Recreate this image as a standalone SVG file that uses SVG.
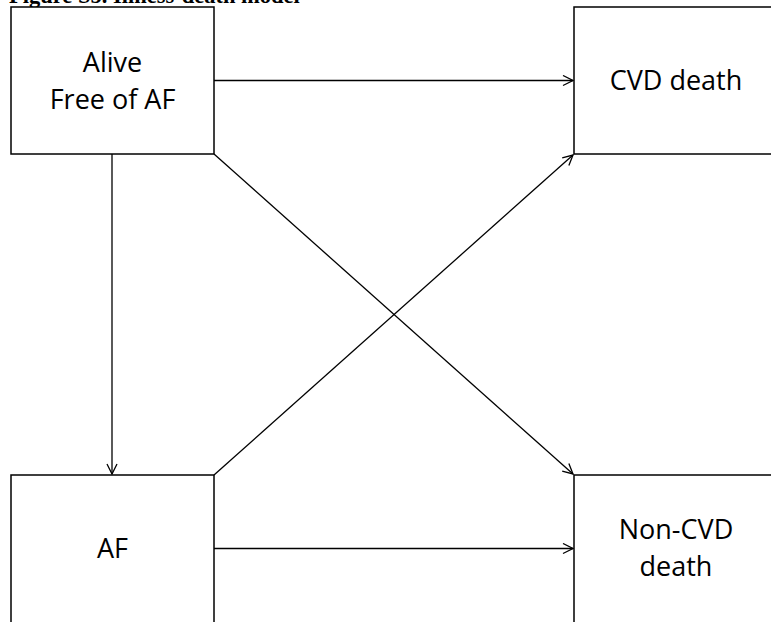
<svg xmlns="http://www.w3.org/2000/svg" width="771" height="622" viewBox="0 0 771 622">
<defs>
<style>
.box{fill:#fff;stroke:#000;stroke-width:1.5}
.lbl{font-family:"Open Sans","Noto Sans",sans-serif;font-size:27px;fill:#000;text-anchor:middle}
.ttl{font-family:"Liberation Serif",serif;font-weight:bold;font-size:22.5px;fill:#000}
.con{stroke:#000;stroke-width:1.3;fill:none;marker-end:url(#ah)}
</style>
<marker id="ah" markerWidth="14" markerHeight="14" refX="11" refY="6" orient="auto" markerUnits="userSpaceOnUse">
<path d="M1,1 L11,6 L1,11" fill="none" stroke="#000" stroke-width="1.3"/>
</marker>
</defs>
<rect width="771" height="622" fill="#fff"/>
<text class="ttl" x="9" y="3">Figure S5. Illness-death model</text>
<g id="connectors">
<line class="con" x1="214" y1="80.5" x2="573" y2="80.5"/>
<line class="con" x1="112" y1="154" x2="112" y2="474"/>
<line class="con" x1="214" y1="154" x2="573" y2="474"/>
<line class="con" x1="214" y1="475" x2="573" y2="155"/>
<line class="con" x1="214" y1="548.5" x2="573" y2="548.5"/>
</g>
<g id="alive">
<rect class="box" x="11" y="7" width="203" height="147"/>
<text class="lbl" x="112.5" y="72">Alive</text>
<text class="lbl" x="112.5" y="109">Free of AF</text>
</g>
<g id="cvd">
<rect class="box" x="574" y="7" width="205" height="147"/>
<text class="lbl" x="676" y="90">CVD death</text>
</g>
<g id="af">
<rect class="box" x="11" y="475" width="203" height="160"/>
<text class="lbl" x="112.5" y="558">AF</text>
</g>
<g id="noncvd">
<rect class="box" x="574" y="475" width="205" height="160"/>
<text class="lbl" x="676" y="539">Non-CVD</text>
<text class="lbl" x="676" y="576">death</text>
</g>
</svg>
